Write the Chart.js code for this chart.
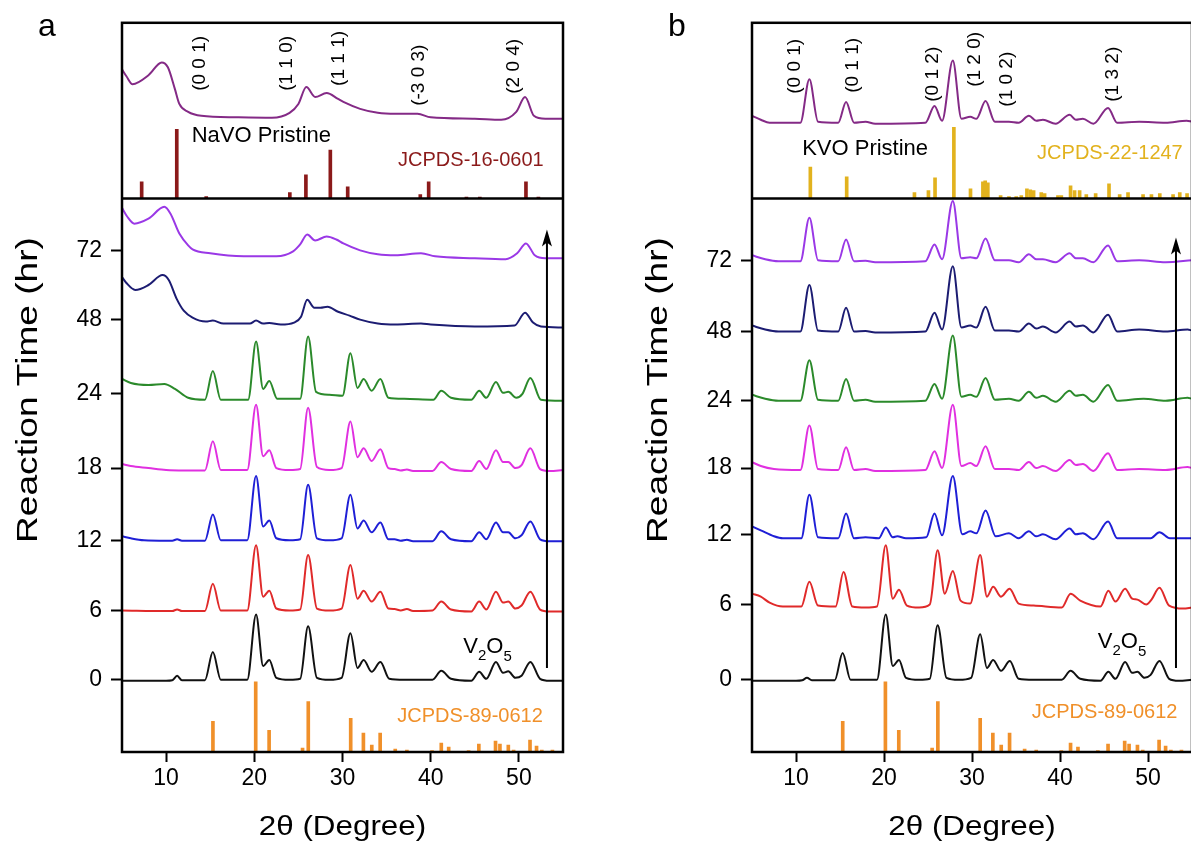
<!DOCTYPE html>
<html><head><meta charset="utf-8">
<script src="https://cdn.jsdelivr.net/npm/chart.js@4.4.1/dist/chart.umd.min.js"></script>
<style>
html,body{margin:0;padding:0;background:#fff;overflow:hidden;width:1191px;height:848px;position:relative}
.pane{position:absolute;top:0;width:640px;height:848px}
</style></head><body>
<div class="pane" style="left:0"><canvas id="ca" width="640" height="848"></canvas></div>
<div class="pane" style="left:630px"><canvas id="cb" width="640" height="848"></canvas></div>
<script>
// ---------- axis data ----------
const xTickValues = [10, 20, 30, 40, 50];
const timeLabels = ['0', '6', '12', '18', '24', '48', '72'];
const tickPosA = [73, 143, 214, 287, 362, 437, 507];
const tickPosB = [73, 149, 220, 287, 355, 425, 497];
const offsetsA = [72, 142, 213, 284, 355, 430, 499];
const offsetsB = [72, 145, 215, 284, 354, 424, 495];
const pristineOffsetA = 640;
const pristineOffsetB = 635;
const refBase = 559.3;

// ---------- panel a: patterns [2theta, intensity] ----------
const a_0h = [[5,0],[10,0],[10.7,0.5],[11.25,5],[11.8,0.5],[14.4,0.5],[15.3,29],[16.2,1],[19.2,1],[20.2,67],[21.0,15],[21.7,21],[22.5,3],[24,1],[25.2,2],[26.1,55],[27.1,3],[28.5,1],[29.9,3],[30.9,48],[31.7,13],[32.4,21],[33.3,9],[34.3,19],[35.3,2],[37,1],[40.2,1],[41.2,10],[42.3,2],[44.6,0],[45.5,9],[46.3,2],[47.4,19],[48.2,8],[48.8,9.5],[49.6,3],[50.3,5],[51.3,19],[52.4,2],[53.5,0],[55,0]];
const a_6h = [[5,1],[10,0.5],[10.7,0.5],[11.25,2],[11.8,0.5],[14.4,0.5],[15.3,28],[16.2,1],[19.2,1],[20.2,67],[21.0,15],[21.7,21],[22.5,3],[24,1],[25.2,2],[26.1,57],[27.1,3],[28.5,1],[29.9,3],[30.9,47],[31.7,13],[32.4,21],[33.3,10],[34.3,20],[35.2,3],[35.9,2.5],[36.6,1],[37.3,2.5],[38,0.5],[40.2,1],[41.2,10],[42.3,2],[44.6,0],[45.5,10],[46.3,2],[47.4,20],[48.2,9],[48.8,10],[49.6,3],[50.3,6],[51.3,20],[52.4,2],[53.5,0],[55,0]];
const a_12h = [[5,5],[6,3],[7.5,1],[10,0.5],[10.7,0.5],[11.25,2],[11.8,0.5],[14.4,0.5],[15.3,27],[16.2,1],[19.2,1],[20.2,66],[21.0,15],[21.7,21],[22.5,3],[24,1],[25.2,2],[26.1,57],[27.1,3],[28.5,1],[29.9,3],[30.9,47],[31.7,13],[32.4,21],[33.3,9],[34.3,19],[35.2,2],[35.9,2],[36.6,0.5],[37.3,1.5],[38,0],[40.2,0],[41.2,10],[42.3,2],[44.6,0],[45.5,9],[46.3,2],[47.4,19],[48.2,9],[48.8,9],[49.6,3],[50.3,6],[51.3,20],[52.4,2],[53.5,0],[55,0]];
const a_18h = [[5,7],[6,5],[8,3],[10,1],[12,0.5],[14.4,0.5],[15.3,30],[16.2,1],[19.2,1],[20.2,67],[21.0,15],[21.7,21],[22.5,3],[24,1],[25.2,2],[26.1,64],[27.1,4],[28.5,1],[29.9,3],[30.9,50],[31.7,14],[32.4,23],[33.3,10],[34.3,22],[35.2,3],[35.9,2],[36.6,0.5],[37.3,1.5],[38,0],[40.2,0],[41.2,9],[42.3,2],[44.6,0],[45.5,10],[46.3,2],[47.4,21],[48.2,9],[48.8,9],[49.6,3],[50.3,6],[51.3,23],[52.4,2],[53.5,0],[55,1]];
const a_24h = [[5,22],[6,18],[8,16],[9.8,17],[11,12],[12.5,3],[14.4,1],[15.3,30],[16.2,1],[19.3,1],[20.2,60],[21.0,12],[21.7,20],[22.6,2],[25.2,2],[26.1,65],[27.0,9],[28.5,6],[30.0,5],[30.9,48],[31.7,13],[32.4,22],[33.3,10],[34.3,22],[35.2,3],[37,2],[40.3,1],[41.2,10],[42.3,3],[44.6,1],[45.5,10],[46.3,3],[47.4,19],[48.2,8],[48.8,9],[49.7,3],[50.4,7],[51.3,23],[52.5,1],[55,0]];
const a_48h = [[5,50],[5.5,44],[6.5,37],[8,42],[9.6,52],[10.3,47],[11.2,28],[12.0,16],[13,9],[14.5,5],[15.3,6],[16.5,3],[19.5,3],[20.2,6],[21,3],[21.7,3.5],[23,2],[24.5,4],[25.3,10],[26.0,27],[26.8,19],[27.5,19],[28.3,20],[29.5,15],[30.8,11],[32,7],[34,3],[36,2],[38.9,3],[40,2],[45,0],[49.5,1],[50.7,14],[51.6,4],[52.5,0],[55,-1]];
const a_72h = [[5,51],[5.6,42],[6.4,35],[8,40],[9.8,52],[10.5,45],[11.5,25],[12.5,13],[13,9],[15,5],[18.8,2],[22.5,2],[24.4,7],[25.2,14],[26,24],[26.9,18],[28.2,22],[29.3,19],[30.1,15],[32,8],[34,4],[36,3],[38.9,5],[40.5,2],[45,0],[48.5,-1],[49.8,5],[50.8,15],[51.8,3],[53,0],[55,0]];
const a_pristine = [[5,50],[5.5,43],[6.2,35],[8,44],[9.5,57],[10.2,52],[11,30],[11.5,15],[12.5,7],[14,3],[18,1.5],[22,1],[24,6],[25.0,15],[25.9,32],[26.9,22],[28.2,26],[29.5,20],[30.1,17],[32,10],[34,6],[36,5],[38.5,5],[40,1.5],[45,0],[48,-1],[49.7,7],[50.7,22],[51.7,3],[53,0],[55,0]];

// ---------- panel b: patterns ----------
const b_0h = [[5,0],[10,0],[10.7,0.5],[11.25,3],[11.8,0.5],[14.4,0.5],[15.3,28],[16.2,1],[19.2,1],[20.2,67],[21.0,15],[21.7,21],[22.5,3],[24,1],[25.2,2],[26.1,56],[27.1,3],[28.5,1],[29.9,3],[30.93,47],[31.7,13],[32.4,21],[33.3,10],[34.3,20],[35.3,2],[37,1],[40.2,1],[41.2,10],[42.3,2],[44.6,0],[45.5,9],[46.3,2],[47.4,19],[48.2,8],[48.8,9],[49.6,3],[50.3,6],[51.3,20],[52.4,2],[53.5,0],[55,1]];
const b_6h = [[5,15],[6,12],[7,6],[8.5,2],[10.6,2],[11.52,27],[12.5,3],[14.5,2],[15.4,37],[16.4,2],[17.9,1],[19.2,2],[20.2,64],[21.0,10],[21.7,19],[22.6,3],[24,1],[25.2,4],[26.1,59],[26.9,15],[27.82,38],[28.7,8],[29.8,5],[30.93,54],[31.7,12],[32.4,22],[33.3,12],[34.27,20],[35.3,5],[37,3],[40.2,1],[41.2,15],[42.3,8],[44.6,2],[45.5,18],[46.3,7],[47.4,20],[48.2,10],[48.8,9],[49.8,4],[50.4,9],[51.3,21],[52.4,3],[54,0],[55,1]];
const b_12h = [[5,13],[6,9],[7.5,3],[8.5,1],[10.6,1],[11.52,45],[12.5,2],[14.8,1],[15.69,26],[16.6,1],[17.9,2],[19.4,1],[20.2,12],[21.0,2],[21.5,3],[22.5,1],[24.8,2],[25.74,26],[26.6,4],[27.82,64],[28.9,5],[29.8,8],[30.5,6],[31.54,29],[32.7,3],[34.2,6],[35.3,1],[36.47,8],[37.3,3],[38.06,5],[39.5,0],[41.1,11],[41.8,5],[42.6,6],[43.8,0],[45.46,18],[46.5,1],[49,1],[50.3,1],[51.3,7],[52.5,1],[55,1]];
const b_18h = [[5,9],[6,5],[7.5,2],[10.5,1],[11.52,46],[12.5,2],[14.8,1],[15.69,24],[16.6,1],[17.9,2],[19,0],[24.7,1],[25.74,20],[26.6,3],[27.82,67],[28.8,5],[29.8,8],[30.5,5],[31.54,25],[32.6,2],[34.2,2],[35.3,1],[36.47,9],[37.3,3],[38.06,5],[39.5,0],[41.1,11],[41.8,6],[42.6,7],[43.8,0],[45.46,18],[46.5,1],[49,2],[52,1],[54.5,4],[55,3]];
const b_24h = [[5,7],[6.5,3],[8,1],[10.5,1],[11.52,42],[12.5,2],[14.8,1],[15.69,23],[16.6,1],[17.9,2],[19,0],[24.7,1],[25.74,18],[26.6,3],[27.82,67],[28.8,5],[29.8,7],[30.5,5],[31.54,24],[32.6,2],[34.2,3],[35.3,1],[36.47,10],[37.3,4],[38.06,6],[39.5,0],[41.1,11],[41.8,6],[42.6,7],[43.8,0],[45.46,17],[46.5,1],[49.5,3],[52,1],[54.5,4],[55,3]];
const b_48h = [[5,7],[6.5,3],[8,1],[10.5,1],[11.52,48],[12.5,2],[14.8,1],[15.69,25],[16.6,1],[17.9,1.5],[19,0],[24.7,1],[25.74,20],[26.6,3],[27.82,67],[28.8,5],[29.8,7],[30.5,5],[31.54,26],[32.6,2],[34.2,2],[35.3,1],[36.47,9],[37.3,4],[38.06,6],[39.5,0],[41.1,11],[41.8,6],[42.6,7],[43.8,0],[45.46,18],[46.5,1],[49,3],[52,1],[54.5,3],[55,2]];
const b_72h = [[5,7],[6.5,3],[8,1],[10.5,1],[11.52,45],[12.5,2],[14.8,1],[15.69,23],[16.6,1],[17.9,1.5],[19,0],[24.7,1],[25.74,18],[26.6,3],[27.82,62],[28.8,4],[29.8,5],[30.5,4],[31.54,24],[32.6,2],[34.2,2],[35.3,0],[36.47,8],[37.3,3],[38.06,3],[39.5,0],[41.1,9],[41.8,4],[42.6,4],[43.8,0],[45.46,17],[46.5,1],[49,2],[52,0],[55,2]];
const b_pristine = [[5,8],[6,4],[7,1],[10.5,1],[11.52,45],[12.5,2],[14.8,1],[15.69,22],[16.6,1],[17.9,2],[19,0],[24.7,1],[25.74,18],[26.6,3],[27.82,64],[28.8,5],[29.8,7],[30.5,5],[31.54,23],[32.6,2],[34.2,2],[35.3,1],[36.47,8],[37.3,3],[38.06,4],[39.5,0],[41.1,9],[41.8,4],[42.6,5],[43.8,0],[45.46,16],[46.5,1],[49,2],[52,1],[54.4,3],[55,2]];

// ---------- reference patterns [2theta, relative height] ----------
const jcpds_16_0601 = [[7.23,17],[11.21,70],[14.55,2],[24.03,6],[25.85,24],[28.62,49],[30.59,12],[38.82,4],[39.77,17],[44.05,1.5],[45.57,1.5],[50.80,17],[52.21,1.5]];
const jcpds_22_1247 = [[11.63,32],[15.76,22],[23.46,6],[25.05,8],[25.8,21],[27.94,72],[29.83,10],[31.24,17],[31.5,18],[31.8,16],[33.25,3],[34.2,2],[35.03,2],[35.6,3],[36.24,10],[36.62,9],[37.0,8],[37.87,6],[38.25,5],[39.77,3],[40.15,3],[41.2,13],[41.66,8],[42.23,8],[42.99,4],[44.05,5],[45.57,15],[46.78,4],[47.73,6],[49.44,4],[50.39,4],[51.34,5],[52.85,4],[53.61,6],[54.44,5]];
const jcpds_89_0612 = [[15.31,31],[20.16,71],[21.68,22],[25.47,4],[26.12,51],[30.93,34],[32.37,19],[33.32,7],[34.27,19],[35.98,3],[37.3,2],[40.15,1.5],[41.2,9],[42.04,5],[44.3,1.5],[45.46,8],[47.35,11],[47.85,8],[48.8,7],[49.4,2],[51.26,12],[52.0,6],[52.6,2],[53.8,2]];

const timeColors = ['#111111', '#e02a2a', '#1f1fd6', '#e030e0', '#2b8a2b', '#1c1c72', '#9a38e6'];
const pristineColor = '#842a86';
const FONT = "'Liberation Sans', Arial, Helvetica, sans-serif";

function drawText(ctx, s, x, y, font, color, align, baseline, rot, sx) {
  ctx.save();
  ctx.translate(x, y);
  if (rot) ctx.rotate(rot);
  if (sx) ctx.scale(sx, 1);
  ctx.font = font; ctx.fillStyle = color;
  ctx.textAlign = align || 'left'; ctx.textBaseline = baseline || 'alphabetic';
  ctx.fillText(s, 0, 0);
  ctx.restore();
}

function makeDecor(cfg) {
  return {
    id: 'decor' + cfg.letter,
    afterDatasetsDraw(chart) {
      const ctx = chart.ctx, ca = chart.chartArea, xs = chart.scales.x, ys = chart.scales.y;
      const X = v => xs.getPixelForValue(v), Y = v => ys.getPixelForValue(v);
      ctx.save();
      // frame + separator
      ctx.strokeStyle = '#000'; ctx.lineWidth = 2.5;
      ctx.strokeRect(ca.left, ca.top, ca.right - ca.left, ca.bottom - ca.top);
      ctx.beginPath(); ctx.moveTo(ca.left, Y(refBase)); ctx.lineTo(ca.right, Y(refBase)); ctx.stroke();
      // arrow
      const ax = X(cfg.arrow.x), ay0 = Y(cfg.arrow.y0), ay1 = Y(cfg.arrow.y1);
      ctx.lineWidth = 2;
      ctx.beginPath(); ctx.moveTo(ax, ay0); ctx.lineTo(ax, ay1 + 12); ctx.stroke();
      ctx.fillStyle = '#000';
      ctx.beginPath(); ctx.moveTo(ax, ay1); ctx.lineTo(ax - 5, ay1 + 17); ctx.lineTo(ax, ay1 + 13); ctx.lineTo(ax + 5, ay1 + 17); ctx.closePath(); ctx.fill();
      // hkl labels
      cfg.hkl.forEach(h => drawText(ctx, h[0], X(h[1]), Y(h[2]), '19px ' + FONT, '#000', 'center', 'middle', -Math.PI / 2));
      // texts
      drawText(ctx, cfg.pristineText[0], X(cfg.pristineText[1]), Y(cfg.pristineText[2]), '22px ' + FONT, '#000', 'left', 'middle');
      drawText(ctx, cfg.refText[0], X(cfg.refText[1]), Y(cfg.refText[2]), '20px ' + FONT, cfg.refColor, 'left', 'middle');
      drawText(ctx, 'JCPDS-89-0612', X(cfg.v2o5Ref[0]), Y(cfg.v2o5Ref[1]), '20px ' + FONT, '#f0902a', 'left', 'middle');
      // V2O5
      let vx = X(cfg.v2o5[0]); const vy = Y(cfg.v2o5[1]);
      ctx.font = '22px ' + FONT; ctx.fillStyle = '#000'; ctx.textAlign = 'left'; ctx.textBaseline = 'alphabetic';
      ctx.fillText('V', vx, vy); vx += ctx.measureText('V').width;
      ctx.font = '15px ' + FONT; ctx.fillText('2', vx, vy + 7); vx += ctx.measureText('2').width;
      ctx.font = '22px ' + FONT; ctx.fillText('O', vx, vy); vx += ctx.measureText('O').width;
      ctx.font = '15px ' + FONT; ctx.fillText('5', vx, vy + 8);
      // titles
      drawText(ctx, 'Reaction Time (hr)', 29, 390, '29px ' + FONT, '#000', 'center', 'middle', -Math.PI / 2, 1.28);
      drawText(ctx, '2\u03b8 (Degree)', (ca.left + ca.right) / 2, 827, '28px ' + FONT, '#000', 'center', 'middle', 0, 1.12);
      drawText(ctx, cfg.letter, 47, 36, '32px ' + FONT, '#000', 'center', 'alphabetic');
      ctx.restore();
    }
  };
}

function buildPanel(id, cfg) {
  const datasets = [];
  const bars = (arr, base, color) => ({
    type: 'bar', data: arr.map(p => ({ x: p[0], y: [base, base + p[1]] })),
    backgroundColor: color, borderWidth: 0, barThickness: 3, grouped: false, order: 2
  });
  datasets.push(bars(cfg.topRef, refBase, cfg.refColor));
  datasets.push(bars(jcpds_89_0612, 0, '#f0902a'));
  const line = (arr, off, color) => ({
    type: 'line', data: arr.map(p => ({ x: p[0], y: off + p[1] })),
    borderColor: color, borderWidth: 2, pointRadius: 0, fill: false,
    cubicInterpolationMode: 'monotone', order: 1
  });
  cfg.curves.forEach((c, i) => datasets.push(line(c, cfg.offsets[i], timeColors[i])));
  datasets.push(line(cfg.pristine, cfg.pristineOffset, pristineColor));

  new Chart(document.getElementById(id), {
    type: 'line',
    data: { datasets },
    options: {
      responsive: false, animation: false, events: [],
      layout: { padding: { left: 0, top: 15, right: cfg.padRight, bottom: 0 } },
      plugins: { legend: { display: false }, tooltip: { enabled: false } },
      scales: {
        x: {
          type: 'linear', min: 5, max: 55, offset: false,
          afterBuildTicks: s => { s.ticks = xTickValues.map(v => ({ value: v })); },
          afterFit: s => { s.height = 96; },
          ticks: { color: '#000', font: { family: FONT, size: 23 }, padding: 3, maxRotation: 0, autoSkip: false },
          grid: { drawOnChartArea: false, drawTicks: true, tickLength: 10, tickWidth: 2, tickColor: '#000', offset: false },
          border: { display: false }
        },
        y: {
          type: 'linear', min: 0, max: 737,
          afterBuildTicks: s => { s.ticks = cfg.tickPos.map(v => ({ value: v })); },
          afterFit: s => { s.width = 122; },
          ticks: { color: '#000', font: { family: FONT, size: 23 }, padding: 9, autoSkip: false,
                   callback: (v, i) => timeLabels[i] },
          grid: { drawOnChartArea: false, drawTicks: true, tickLength: 11, tickWidth: 2, tickColor: '#000' },
          border: { display: false }
        }
      }
    },
    plugins: [makeDecor(cfg)]
  });
}

buildPanel('ca', {
  letter: 'a', padRight: 77, tickPos: tickPosA, offsets: offsetsA, pristineOffset: pristineOffsetA,
  curves: [a_0h, a_6h, a_12h, a_18h, a_24h, a_48h, a_72h], pristine: a_pristine,
  topRef: jcpds_16_0601, refColor: '#8b1a1a',
  hkl: [['(0 0 1)', 13.8, 696], ['(1 1 0)', 23.7, 696], ['(1 1 1)', 29.6, 701], ['(-3 0 3)', 38.6, 684], ['(2 0 4)', 49.4, 693]],
  pristineText: ['NaVO Pristine', 12.9, 623], refText: ['JCPDS-16-0601', 36.3, 598],
  v2o5: [43.7, 100], v2o5Ref: [36.2, 36],
  arrow: { x: 53.18, y0: 85, y1: 528 }
});
buildPanel('cb', {
  letter: 'b', padRight: 78, tickPos: tickPosB, offsets: offsetsB, pristineOffset: pristineOffsetB,
  curves: [b_0h, b_6h, b_12h, b_18h, b_24h, b_48h, b_72h], pristine: b_pristine,
  topRef: jcpds_22_1247, refColor: '#e2b21e',
  hkl: [['(0 0 1)', 9.84, 693], ['(0 1 1)', 16.4, 694], ['(0 1 2)', 25.5, 685], ['(1 2 0)', 30.3, 700], ['(1 0 2)', 33.95, 680], ['(1 3 2)', 46.0, 685]],
  pristineText: ['KVO Pristine', 10.7, 610], refText: ['JCPDS-22-1247', 37.4, 605],
  v2o5: [44.3, 105], v2o5Ref: [36.8, 40],
  arrow: { x: 53.18, y0: 85, y1: 520 }
});
</script>
</body></html>
